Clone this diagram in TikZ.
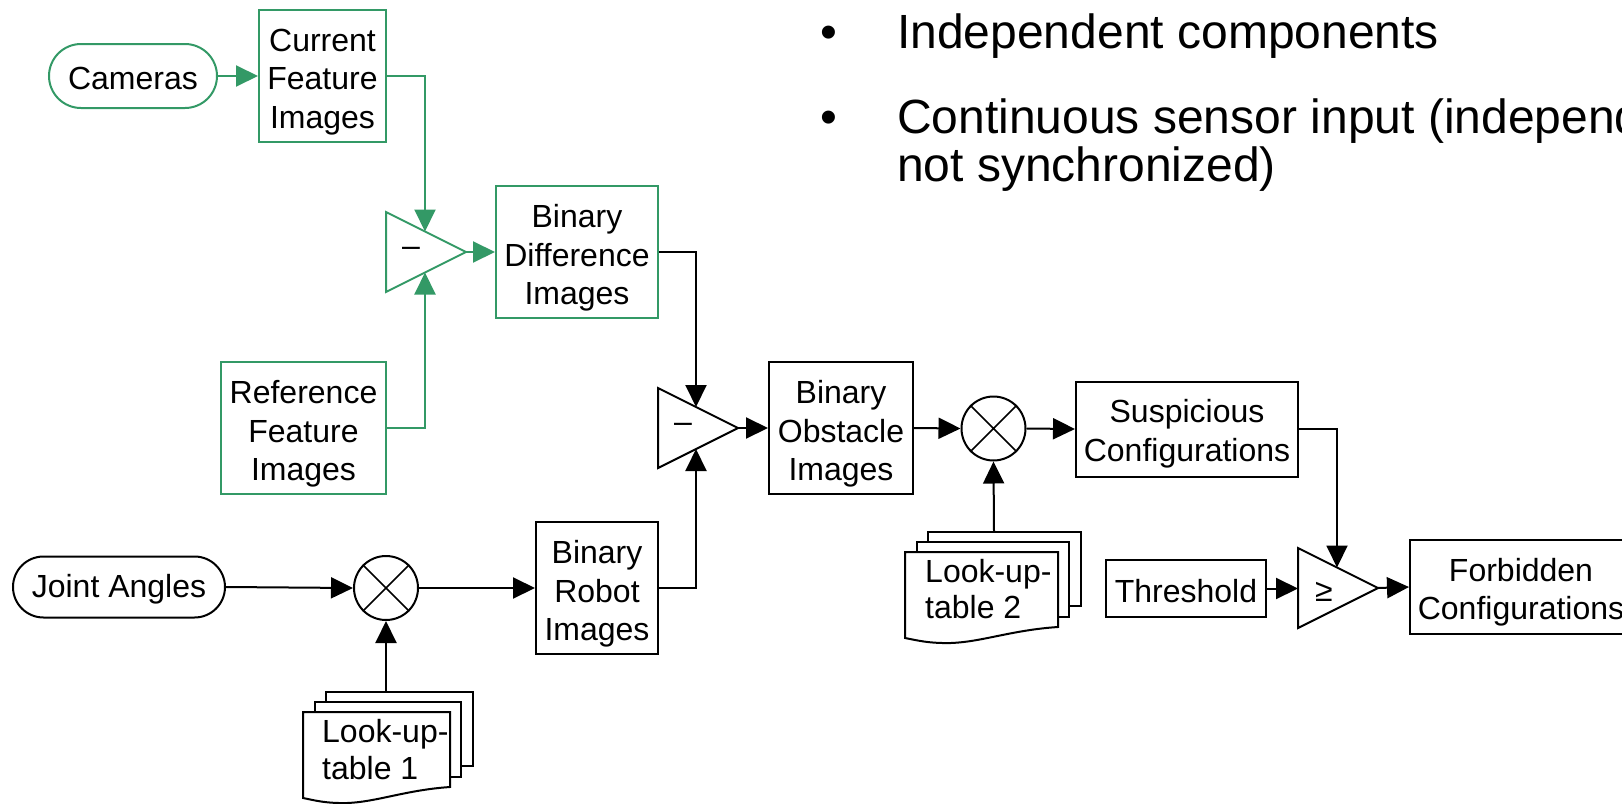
\documentclass[tikz,border=0pt]{standalone}
\usepackage{fontspec}
\setmainfont{Liberation Sans}
\usetikzlibrary{arrows.meta,shapes.misc}

\definecolor{flowgreen}{RGB}{51,153,102}
\newcommand\boxfont{\fontsize{32}{38.5}\selectfont}
\newcommand\bulletfont{\fontsize{48}{56}\selectfont}

% stack of three sheets; #1 = left x, #2 = top y of the front sheet, #3 = its width
\newcommand\lutstack[3]{%
  \draw[line width=2pt] ({#1+12},#2) -- ({#1+12},{#2-10}) -- ({#1+#3+11},{#2-10})
        -- ({#1+#3+11},{#2+65}) -- ({#1+#3},{#2+65});
  \draw[line width=2pt] ({#1+23},{#2-10}) -- ({#1+23},{#2-20}) -- ({#1+#3+23},{#2-20})
        -- ({#1+#3+23},{#2+54}) -- ({#1+#3+11},{#2+54});
  \draw[line width=2pt, fill=white] (#1,#2) -- ({#1+#3},#2) -- ({#1+#3},{#2+75})
        .. controls ({#1+#3*0.7},{#2+78}) and ({#1+#3*0.5},{#2+90}) .. ({#1+#3*0.3},{#2+91})
        .. controls ({#1+#3*0.15},{#2+91.5}) and ({#1+#3*0.07},{#2+88}) .. (#1,{#2+86}) -- cycle;
}

\tikzset{
  box/.style={draw, line width=2pt, inner sep=0pt},
  gbox/.style={box, draw=flowgreen},
  pill/.style={rounded rectangle, draw, line width=2pt, inner sep=0pt},
  mult/.style={circle, draw, line width=2pt, minimum size=64pt, inner sep=0pt},
  lbl/.style={inner sep=0pt, font=\boxfont},
  boxtxt/.style={lbl, align=center, yshift=-#1},
  boxtxt/.default=6pt,
  wire/.style={line width=2pt, -{Triangle[length=22pt,width=21pt]}},
  gwire/.style={wire, draw=flowgreen},
  comp/.style={line width=2pt},
}

\begin{document}
\begin{tikzpicture}[x=1pt, y=-1pt]
\useasboundingbox (0,0) rectangle (1622,803);
\clip (0,0) rectangle (1622,803);

% bullet text
\node[inner sep=0pt, font=\bulletfont, anchor=base west] (dot1) at (820,48) {•};
\node[inner sep=0pt, font=\bulletfont, anchor=base west] (txt1) at (897,48) {Independent components};
\node[inner sep=0pt, font=\bulletfont, anchor=base west] (dot2) at (820,133) {•};
\node[inner sep=0pt, font=\bulletfont, anchor=base west] (txt2) at (897,133) {Continuous sensor input (independent,};
\node[inner sep=0pt, font=\bulletfont, anchor=base west] (txt3) at (897,181) {not synchronized)};

% camera branch (green)
\node[pill, draw=flowgreen, minimum width=168pt, minimum height=64pt] (cam) at (133,76) {};
\node[boxtxt=2.5pt] (camtxt) at (cam) {Cameras};
\node[gbox, minimum width=127pt, minimum height=132pt] (cur) at (322.5,76) {};
\node[boxtxt] (curtxt) at (cur) {Current\\Feature\\Images};
\node[gbox, minimum width=165pt, minimum height=132pt] (ref) at (303.5,428) {};
\node[boxtxt] (reftxt) at (ref) {Reference\\Feature\\Images};
\node[gbox, minimum width=162pt, minimum height=132pt] (bdi) at (577,252) {};
\node[boxtxt] (bditxt) at (bdi) {Binary\\Difference\\Images};

% first comparator
\draw[comp, draw=flowgreen] (386,212) -- (466,252) -- (386,292) -- cycle;
\coordinate (t1top) at (425,231.5);
\coordinate (t1bot) at (425,272.5);
\coordinate (t1out) at (466,252);
\node[lbl] (t1sign) at (411,252) {–};

\draw[gwire] (cam.east) -- (cur.west);
\draw[gwire] (cur.east) -| (t1top);
\draw[gwire] (ref.east) -| (t1bot);
\draw[gwire] (t1out) -- (bdi.west);

% robot branch
\node[pill, minimum width=212pt, minimum height=61pt] (ja) at (119,587) {};
\node[boxtxt=2.5pt] (jatxt) at (ja) {Joint Angles};
\node[mult] (c1) at (386,588) {};
\draw[line width=1.5pt] (c1.north west) -- (c1.south east) (c1.north east) -- (c1.south west);
\node[box, minimum width=122pt, minimum height=132pt] (rob) at (597,588) {};
\node[boxtxt] (robtxt) at (rob) {Binary\\Robot\\Images};
\lutstack{303}{712}{147}
\coordinate (lut1top) at (386,692);
\node[lbl, anchor=base west] (lut1a) at (322,742) {Look-up-};
\node[lbl, anchor=base west] (lut1b) at (322,779) {table 1};

\draw[wire] (ja.east) -- (c1.west);
\draw[wire] (c1.east) -- (rob.west);
\draw[wire] (lut1top) -- (c1.south);

% second comparator
\draw[comp] (658,388) -- (738,428) -- (658,468) -- cycle;
\coordinate (t2top) at (696,407);
\coordinate (t2bot) at (696,449);
\coordinate (t2out) at (738,428);
\node[lbl] (t2sign) at (683,428) {–};
\draw[wire] (bdi.east) -| (t2top);
\draw[wire] (rob.east) -| (t2bot);

\node[box, minimum width=144pt, minimum height=132pt] (boi) at (841,428) {};
\node[boxtxt] (boitxt) at (boi) {Binary\\Obstacle\\Images};
\draw[wire] (t2out) -- (boi.west);

\node[mult] (c2) at (993.5,428.5) {};
\draw[line width=1.5pt] (c2.north west) -- (c2.south east) (c2.north east) -- (c2.south west);
\draw[wire] (boi.east) -- (c2.west);

\lutstack{905}{552}{153}
\coordinate (lut2top) at (994,532);
\node[lbl, anchor=base west] (lut2a) at (925,582) {Look-up-};
\node[lbl, anchor=base west] (lut2b) at (925,618) {table 2};
\draw[wire] (lut2top) -- (c2.south);

\node[box, minimum width=222pt, minimum height=95pt] (sus) at (1187,429) {};
\node[boxtxt=4.5pt] (sustxt) at (sus) {Suspicious\\Configurations};
\draw[wire] (c2.east) -- (sus.west);

% threshold comparator
\node[box, minimum width=160pt, minimum height=57pt] (thr) at (1186,588.5) {};
\node[boxtxt=2.5pt] (thrtxt) at (thr) {Threshold};
\draw[comp] (1298,548) -- (1378,588) -- (1298,628) -- cycle;
\coordinate (t3top) at (1337,567.5);
\coordinate (t3in) at (1298,588.5);
\coordinate (t3out) at (1378,588);
\node[lbl] (t3sign) at (1324,592) {≥};
\draw[wire] (sus.east) -| (t3top);
\draw[wire] (thr.east) -- (t3in);

\node[box, minimum width=222pt, minimum height=94pt] (forb) at (1521,587) {};
\node[boxtxt=5pt] (forbtxt) at (forb) {Forbidden\\Configurations};
\draw[wire] (t3out) -- (forb.west);
\end{tikzpicture}
\end{document}
